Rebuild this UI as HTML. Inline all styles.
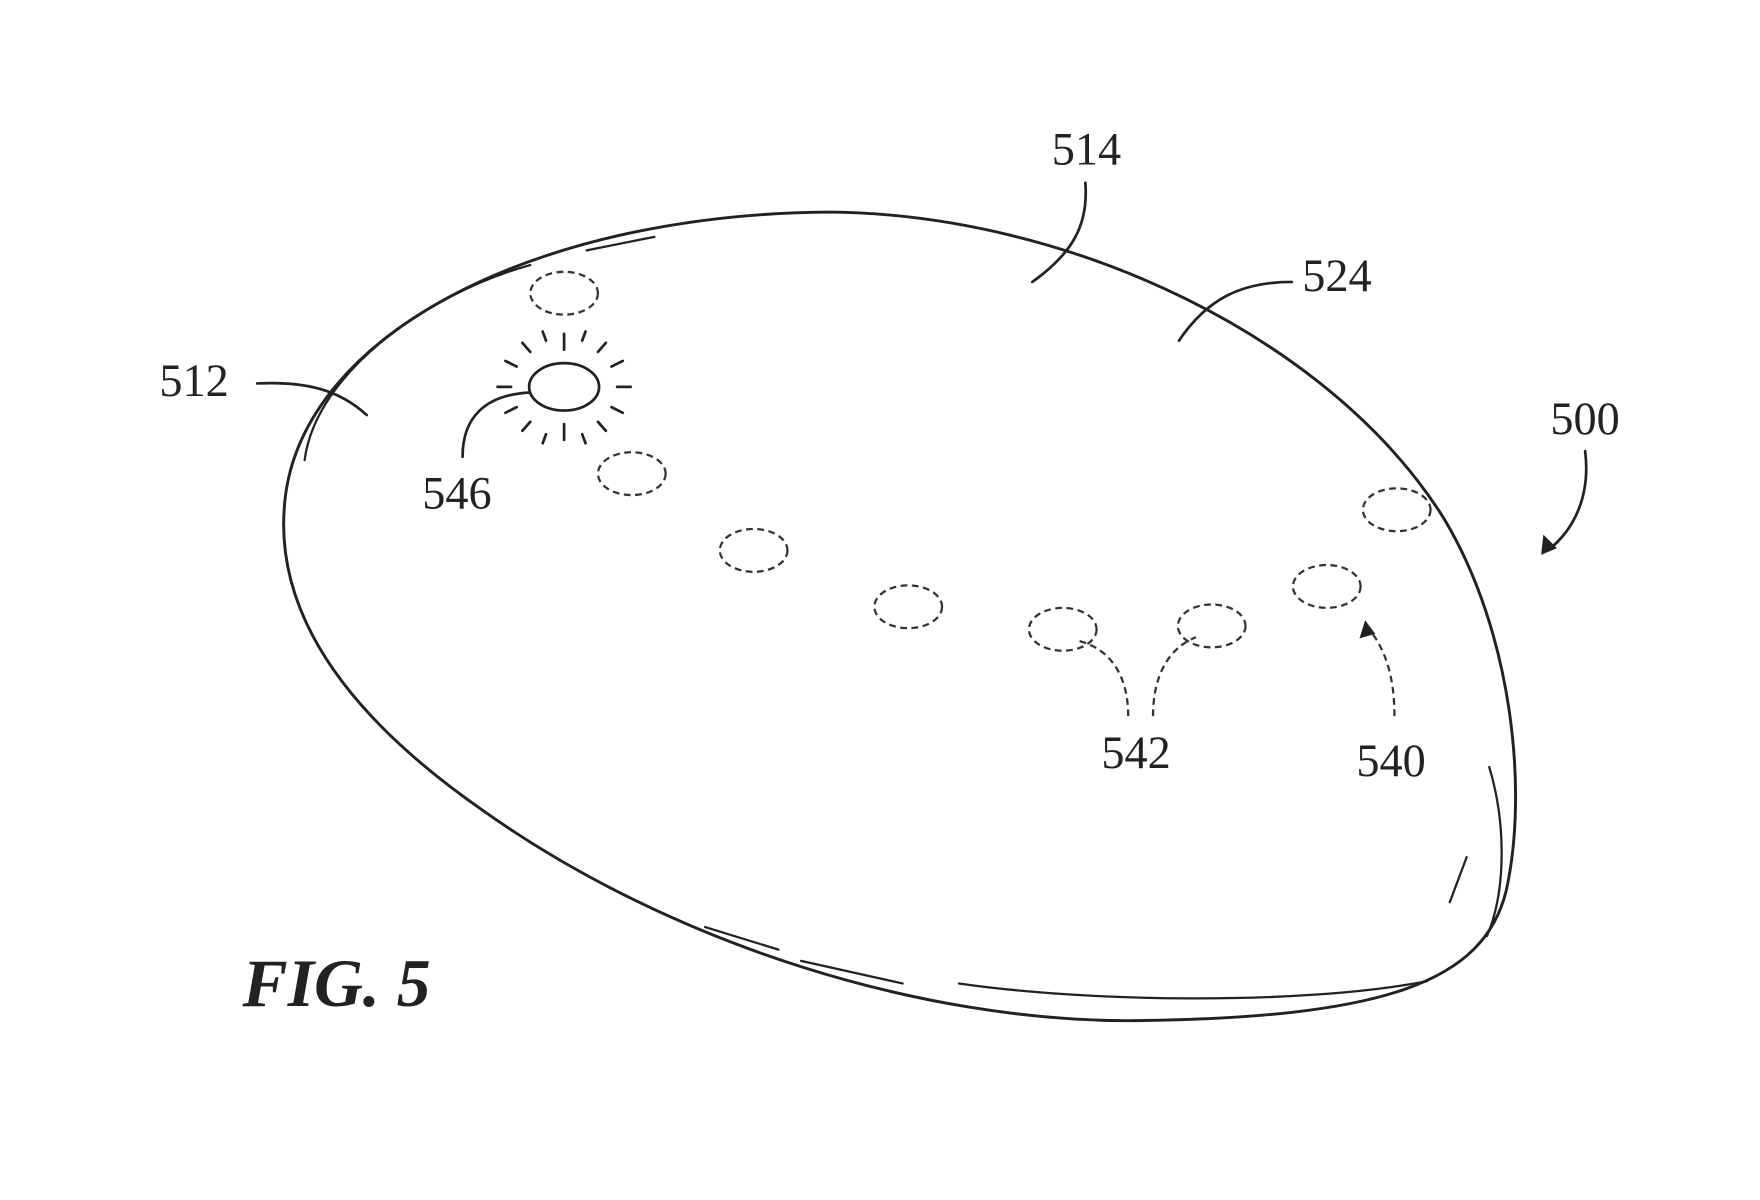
<!DOCTYPE html>
<html><head><style>html,body{margin:0;padding:0;background:#fff}svg{display:block}</style></head>
<body>
<svg width="1760" height="1200" viewBox="0 0 1560 1064" preserveAspectRatio="none" xmlns="http://www.w3.org/2000/svg">
<g fill="none" stroke="#222" stroke-width="2.6" stroke-linecap="round">
<path d="M 735,188 C 950,190 1180,300 1280,460 C 1340,560 1355,700 1335,790 C 1315,870 1230,903 1000,905 C 820,905 600,840 430,720 C 300,630 245,540 252,450 C 262,300 470,190 735,188 Z"/>
<path d="M 270,408 C 280,330 380,260 470,235" stroke-width="2"/>
<path d="M 520,222 L 580,210" stroke-width="2"/>
<path d="M 1320,680 C 1335,730 1335,790 1318,830" stroke-width="2"/>
<path d="M 1300,760 L 1285,800" stroke-width="2"/>
<path d="M 1265,870 C 1150,892 960,888 850,872" stroke-width="2"/>
<path d="M 625,822 L 690,842" stroke-width="2"/>
<path d="M 710,852 L 800,872" stroke-width="2"/>
</g>
<g fill="none" stroke="#333" stroke-width="2" stroke-dasharray="6,4">
<ellipse cx="500" cy="260" rx="30" ry="19"/>
<ellipse cx="560" cy="420" rx="30" ry="19"/>
<ellipse cx="668" cy="488" rx="30" ry="19"/>
<ellipse cx="805" cy="538" rx="30" ry="19"/>
<ellipse cx="942" cy="558" rx="30" ry="19"/>
<ellipse cx="1074" cy="555" rx="30" ry="19"/>
<ellipse cx="1176" cy="520" rx="30" ry="19"/>
<ellipse cx="1238" cy="452" rx="30" ry="19"/>
<path d="M 1000,635 C 1000,600 985,575 955,568"/>
<path d="M 1022,635 C 1022,600 1035,575 1060,565"/>
<path d="M 1236,635 C 1236,600 1228,575 1212,556"/>
</g>
<g fill="none" stroke="#222" stroke-width="2.4" stroke-linecap="round">
<ellipse cx="500" cy="343" rx="31" ry="21"/>
<path d="M500,296 v14 M500,376 v14 M453,343 h-12 M547,343 h12 M470,312 l-7,-8 M530,312 l7,-8 M470,374 l-7,8 M530,374 l7,8 M484,302 l-3,-8 M516,302 l3,-8 M484,385 l-3,8 M516,385 l3,8 M458,325 l-10,-5 M542,325 l10,-5 M458,361 l-10,5 M542,361 l10,5"/>
<path d="M 962,162 C 965,200 950,225 915,250"/>
<path d="M 1145,250 C 1100,250 1070,265 1045,302"/>
<path d="M 228,340 C 270,338 300,345 325,368"/>
<path d="M 470,348 C 430,350 410,370 410,405"/>
<path d="M 1405,400 C 1410,440 1395,470 1372,488"/>
</g>
<path d="M1366,492 l2,-18 l12,12 z" fill="#222"/>
<path d="M1210,550 l-5,16 l14,-4 z" fill="#222"/>
<g font-family="'Liberation Serif',serif" font-size="41" fill="#222" text-anchor="middle">
<text x="963" y="146">514</text>
<text x="1185" y="258">524</text>
<text x="172" y="351">512</text>
<text x="1405" y="385">500</text>
<text x="405" y="451">546</text>
<text x="1007" y="681">542</text>
<text x="1233" y="688">540</text>
</g>
<text x="215" y="892" font-family="'Liberation Serif',serif" font-size="60" font-weight="bold" font-style="italic" fill="#222">FIG. 5</text>
</svg>
</body></html>
